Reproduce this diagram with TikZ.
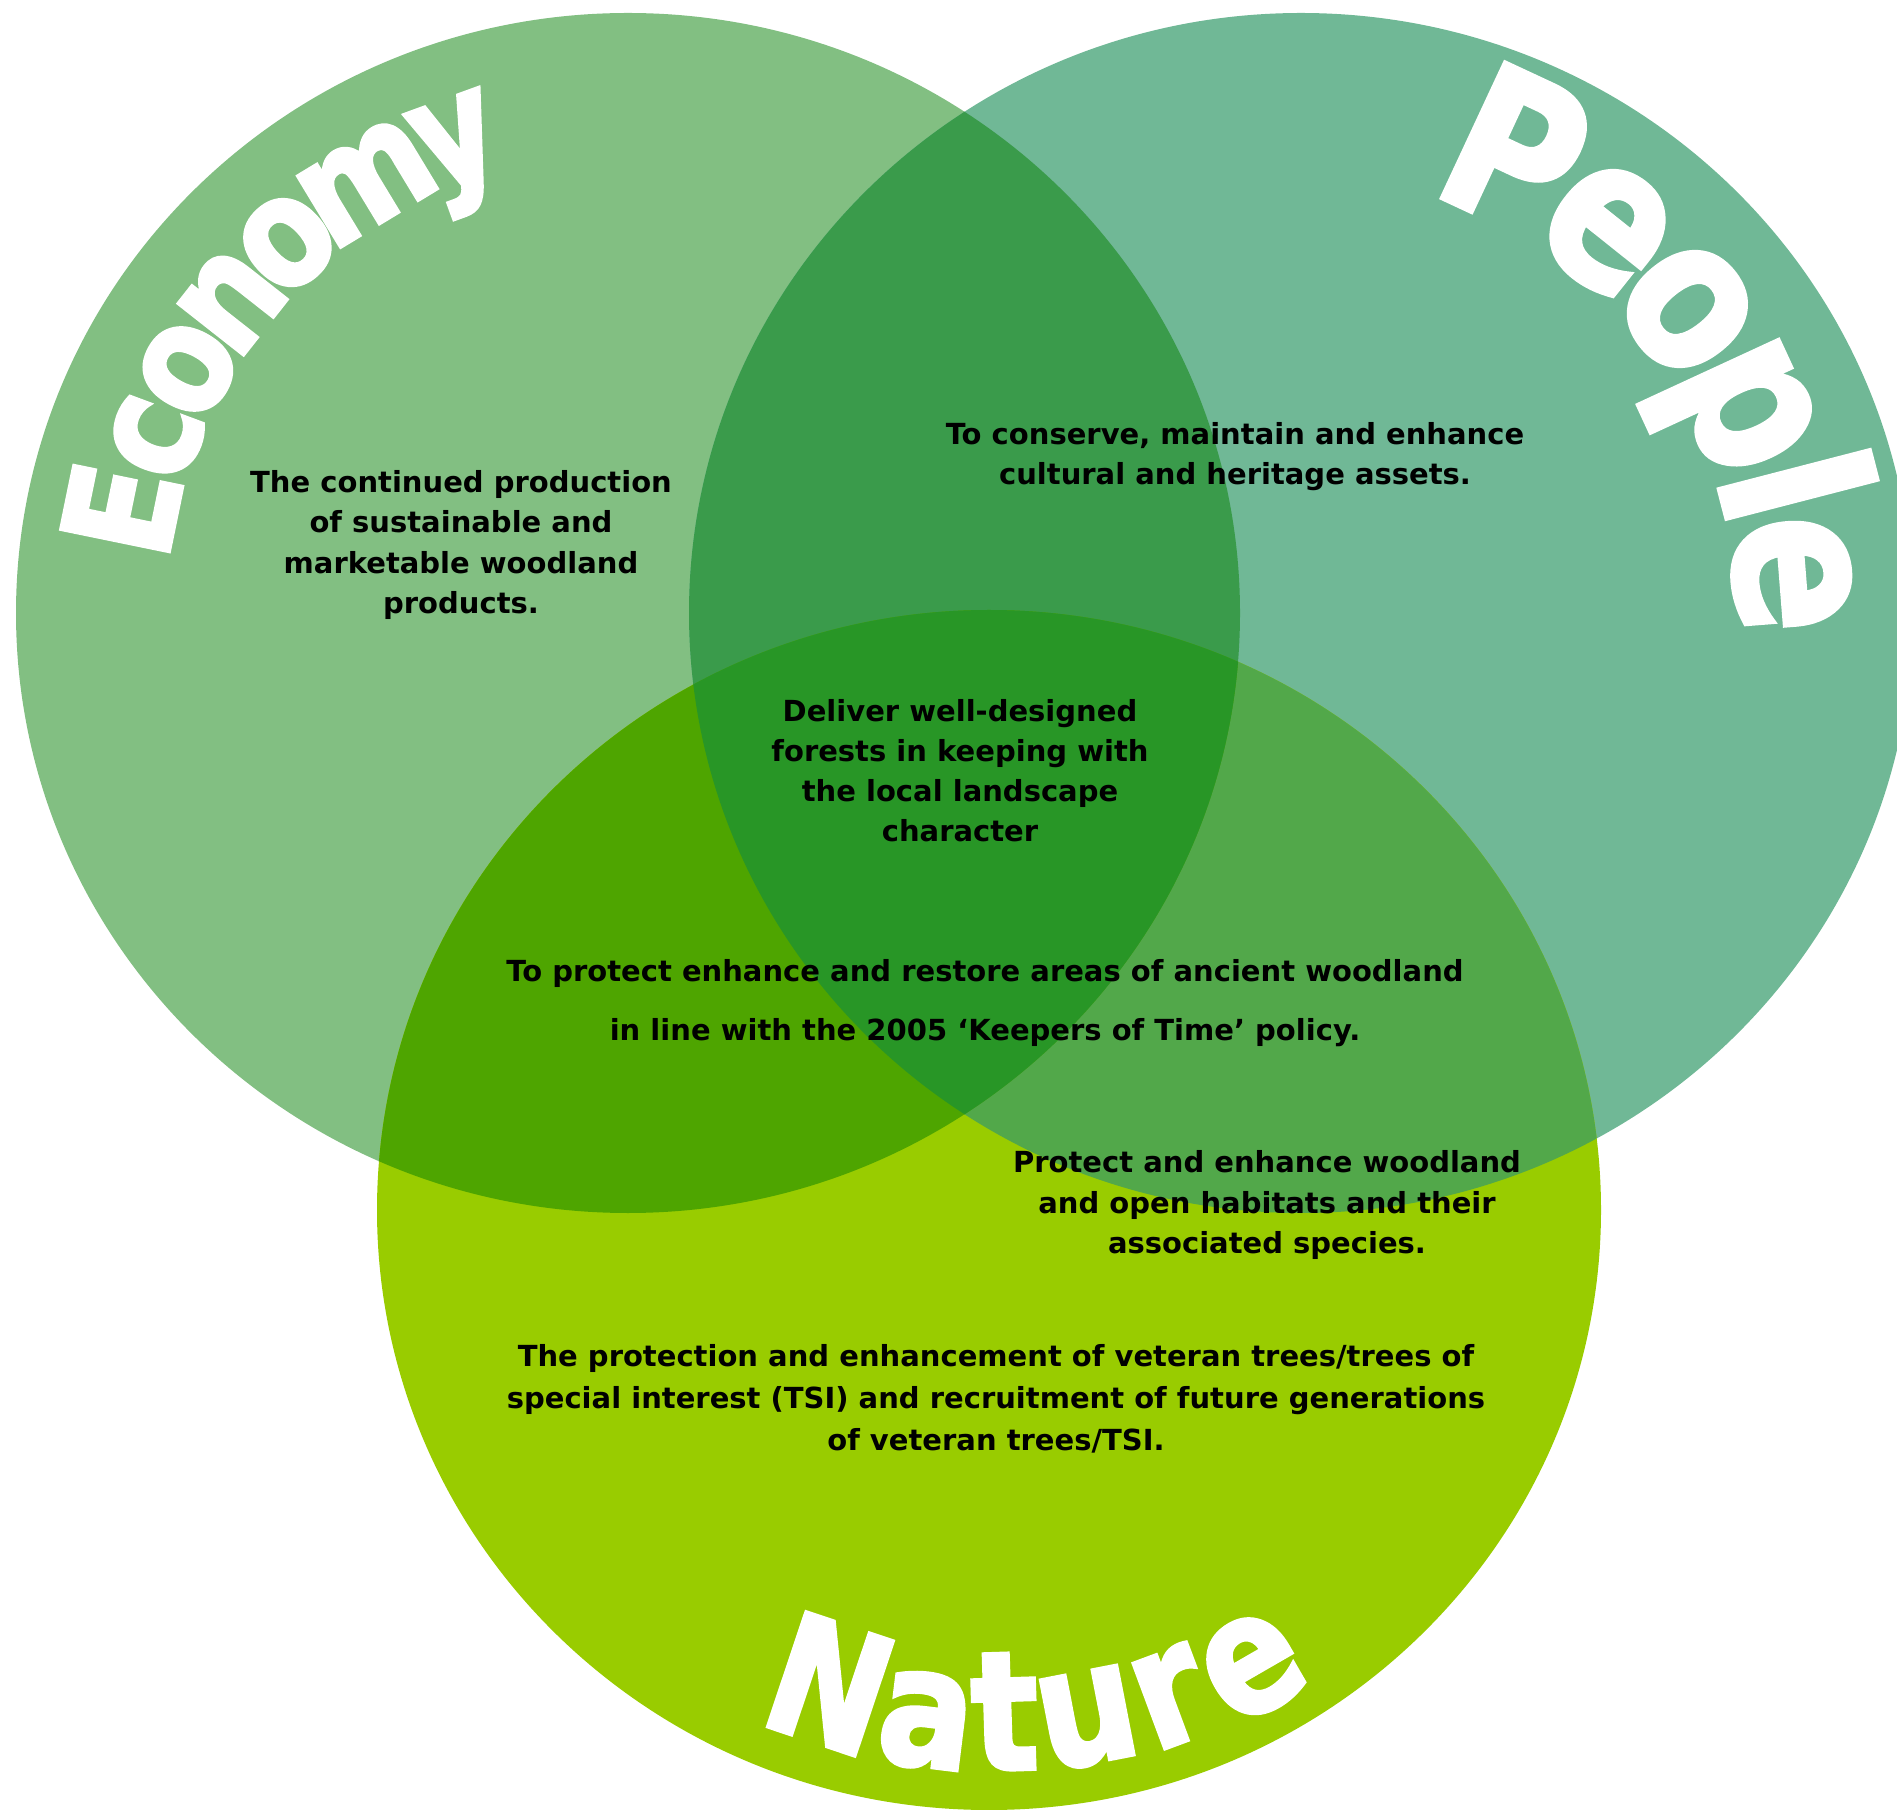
\documentclass[tikz,border=0pt]{standalone}
\usepackage{fontspec}
\setmainfont{DejaVu Sans}
\newfontfamily\wordfont[FakeBold=2.5]{DejaVu Sans Bold}
\definecolor{econcol}{HTML}{82BF82}
\definecolor{peoplecol}{HTML}{70B896}
\definecolor{naturecol}{HTML}{99CC00}
\definecolor{econpeople}{HTML}{3A9B4B}
\definecolor{econnature}{HTML}{4EA500}
\definecolor{peoplenature}{HTML}{52A84A}
\definecolor{allthree}{HTML}{289626}
\tikzset{
   ring/.style = {x radius = 612, y radius = 600},
   blurb/.style = {align = center, inner sep = 0pt, font = \bfseries\fontsize{8.25}{11.4}\selectfont},
   bigletter/.style = {anchor = base, inner sep = 0pt, text = white, xscale = 0.85},
   econword/.style = {bigletter, font = \wordfont\fontsize{43}{43}\selectfont},
   peopleword/.style = {bigletter, font = \wordfont\fontsize{58}{58}\selectfont},
   natureword/.style = {bigletter, font = \wordfont\fontsize{47}{47}\selectfont}
}
\newcommand{\ringletter}[6]{
   \node[rotate = #4 - 90, #1] (#2) at ([shift = {(#4:#5)}] #3) {#6};
}
\newcommand{\ringletterr}[6]{
   \node[rotate = #4 + 90, #1] (#2) at ([shift = {(#4:#5)}] #3) {#6};
}
\begin{document}
\begin{tikzpicture}[x = 0.01cm, y = 0.01cm]
		\useasboundingbox (0,0) rectangle (1897,-1810);

		% Centres
		\coordinate (econ) at (628,-613);
		\coordinate (people) at (1301,-613);
		\coordinate (nature) at (989,-1210);

		% Circles
		\fill[econcol] (econ) ellipse [ring];
		\fill[peoplecol] (people) ellipse [ring];
		\fill[naturecol] (nature) ellipse [ring];
		%% Overlaps
		\begin{scope}
			\clip (people) ellipse [ring];
			\fill[peoplenature] (nature) ellipse [ring];
		\end{scope}
		\begin{scope}
			\clip (econ) ellipse [ring];
			\fill[econpeople] (people) ellipse [ring];
			\fill[econnature] (nature) ellipse [ring];
			\clip (people) ellipse [ring];
			\fill[allthree] (nature) ellipse [ring];
		\end{scope}

		% Economy
		\ringletter{econword}{eco-1}{econ}{168.4}{462}{E}
		\ringletter{econword}{eco-2}{econ}{159.6}{462}{c}
		\ringletter{econword}{eco-3}{econ}{151.0}{462}{o}
		\ringletter{econword}{eco-4}{econ}{141.8}{462}{n}
		\ringletter{econword}{eco-5}{econ}{132.6}{462}{o}
		\ringletter{econword}{eco-6}{econ}{121.2}{462}{m}
		\ringletter{econword}{eco-7}{econ}{110.0}{462}{y}
		% People
		\ringletter{peopleword}{peo-1}{people}{65}{436}{P}
		\ringletter{peopleword}{peo-2}{people}{51.4}{436}{e}
		\ringletter{peopleword}{peo-3}{people}{38.2}{436}{o}
		\ringletter{peopleword}{peo-4}{people}{24.8}{436}{p}
		\ringletter{peopleword}{peo-5}{people}{14.5}{436}{l}
		\ringletter{peopleword}{peo-6}{people}{4.5}{436}{e}
		% Nature
		\ringletterr{natureword}{nat-1}{nature}{251.5}{560}{N}
		\ringletterr{natureword}{nat-2}{nature}{263.0}{560}{a}
		\ringletterr{natureword}{nat-3}{nature}{271.8}{560}{t}
		\ringletterr{natureword}{nat-4}{nature}{281.0}{562}{u}
		\ringletterr{natureword}{nat-5}{nature}{290.4}{566}{r}
		\ringletterr{natureword}{nat-6}{nature}{300}{572}{e}

		% Texts
		\node[blurb] (econtext) at (461,-545) {The continued production\\of sustainable and\\marketable woodland\\products.};
		\node[blurb] (peopletext) at (1235,-457) {To conserve, maintain and enhance\\cultural and heritage assets.};
		\node[blurb] (middletext) at (960,-771) {Deliver well-designed\\forests in keeping with\\the local landscape\\character};
		\node[blurb] (ancienttext) at (985,-1003) {To protect enhance and restore areas of ancient woodland\\[5.4pt]in line with the 2005 ‘Keepers of Time’ policy.};
		\node[blurb] (habitattext) at (1267,-1205) {Protect and enhance woodland\\and open habitats and their\\associated species.};
		\node[blurb, font = \bfseries\fontsize{8.25}{11.95}\selectfont] (veterantext) at (996,-1399) {The protection and enhancement of veteran trees/trees of\\special interest (TSI) and recruitment of future generations\\of veteran trees/TSI.};
	\end{tikzpicture}
\end{document}
